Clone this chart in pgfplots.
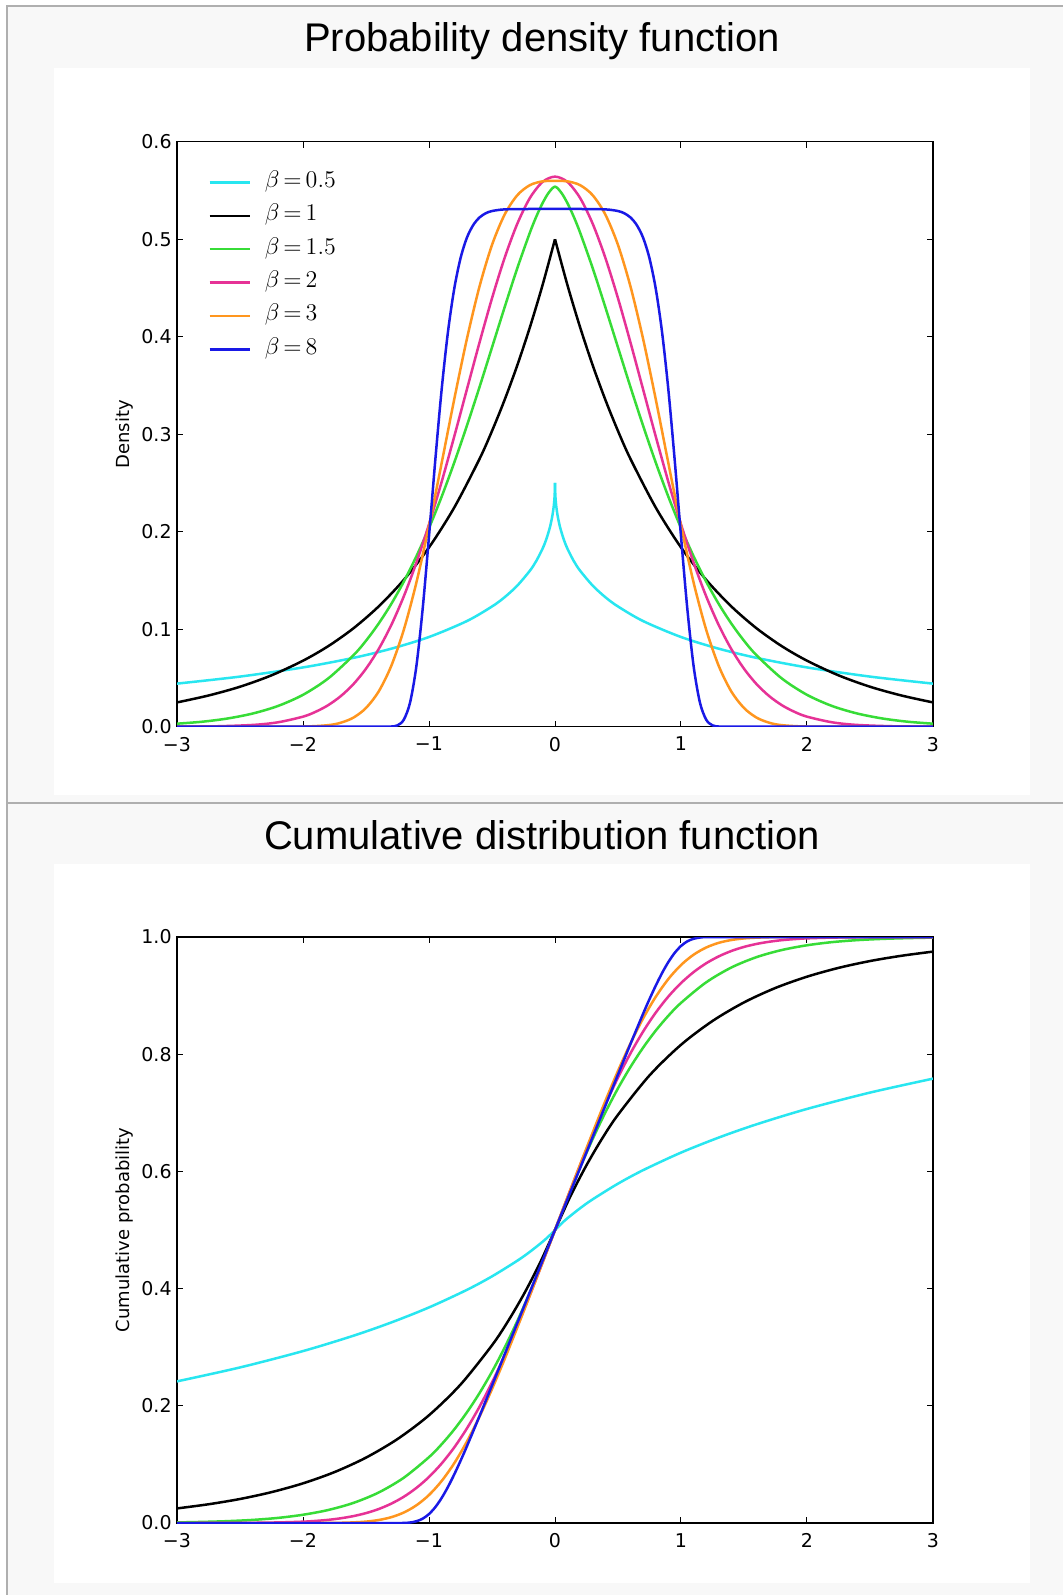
\documentclass[border=0pt]{standalone}
\usepackage[no-math]{fontspec}
\setmainfont{DejaVu Sans}
\newfontfamily\titlefont{Liberation Sans}
\usepackage{pgfplots}
\pgfplotsset{compat=1.18}

\definecolor{bgcol}{RGB}{248,248,248}
\definecolor{bordercol}{RGB}{175,175,175}
\definecolor{ccyan}{RGB}{40,230,240}
\definecolor{cgreen}{RGB}{55,220,55}
\definecolor{cpink}{RGB}{230,50,150}
\definecolor{corange}{RGB}{255,150,30}
\definecolor{cblue}{RGB}{25,25,230}

\pgfplotsset{
  gnd/.style={
    scale only axis, width=378pt, xmin=-3, xmax=3,
    tick align=inside, major tick length=3pt,
    xtick={-3,-2,-1,0,1,2,3}, xticklabels={−3,−2,−1,0,1,2,3},
    ticklabel style={font=\fontsize{9.5}{11}\selectfont, inner sep=0pt},
    xticklabel style={yshift=-5pt},
    yticklabel style={xshift=-2.5pt},
    every axis y label/.style={at={(axis description cs:-0.07,0.5)}, rotate=90, anchor=center, font=\fontsize{9}{11}\selectfont},
    axis line style={line width=0.7pt},
    every tick/.style={black, line width=0.5pt},
  },
  cur/.style={line width=1.25pt, smooth},
}

\begin{document}
\begin{tikzpicture}
\useasboundingbox (0,0) rectangle (531.5pt,-797.5pt);
\fill[white] (0,0) rectangle (531.5pt,-797.5pt);
\fill[bgcol] (3.25pt,-3pt) rectangle (531.5pt,-797.5pt);
\fill[white] (27pt,-34pt) rectangle (515pt,-397.5pt);
\fill[white] (27pt,-432pt) rectangle (515pt,-791.5pt);
\draw[bordercol, line width=1pt] (3.25pt,-797.5pt) -- (3.25pt,-3pt) -- (531.5pt,-3pt);
\draw[bordercol, line width=1pt] (3.25pt,-401.5pt) -- (531.5pt,-401.5pt);
\node[anchor=base, font=\titlefont\fontsize{20}{24}\selectfont] at (271pt,-26pt) {Probability density function};
\node[anchor=base, font=\titlefont\fontsize{20}{24}\selectfont] at (271pt,-424.5pt) {Cumulative distribution function};

% density
\begin{axis}[gnd, at={(88.5pt,-363.35pt)}, anchor=south west, height=292.5pt,
  ymin=0, ymax=0.6, ytick={0,0.1,0.2,0.3,0.4,0.5,0.6},
  yticklabels={0.0,0.1,0.2,0.3,0.4,0.5,0.6},
  ylabel={Density},
  legend cell align=left,
  legend image code/.code={\draw[#1] (0pt,0pt) -- (20pt,0pt);},
  legend style={at={(rel axis cs:0.041,0.95)}, anchor=north west, draw=none, fill=none,
    inner sep=0pt, row sep=5.7pt, column sep=7pt, font=\fontsize{12}{14}\selectfont,
    nodes={inner sep=0pt, text height=8pt, text depth=3pt}},
]
\addplot[ccyan, cur, forget plot] coordinates {(-3,0.0442)(-2.5,0.0514)(-2,0.0608)(-1.6,0.0706)(-1.3,0.0800)(-1,0.0920)(-0.7,0.1083)(-0.5,0.1233)(-0.4,0.1328)(-0.3,0.1446)(-0.2,0.1599)(-0.15,0.1697)(-0.1,0.1822)(-0.07,0.1919)(-0.04,0.2047)(-0.02,0.2170)(-0.01,0.2262)(-0.005,0.2329)(-0.001,0.2422)(0,0.2500)};
\addplot[ccyan, cur] coordinates {(0,0.2500)(0.001,0.2422)(0.005,0.2329)(0.01,0.2262)(0.02,0.2170)(0.04,0.2047)(0.07,0.1919)(0.1,0.1822)(0.15,0.1697)(0.2,0.1599)(0.3,0.1446)(0.4,0.1328)(0.5,0.1233)(0.7,0.1083)(1,0.0920)(1.3,0.0800)(1.6,0.0706)(2,0.0608)(2.5,0.0514)(3,0.0442)};
\addlegendentry{$\beta\mskip3mu{=}\mskip3mu0.5$}
\addplot[black, cur, forget plot] coordinates {(-3,0.0249)(-2.75,0.0320)(-2.5,0.0410)(-2.25,0.0527)(-2,0.0677)(-1.8,0.0826)(-1.6,0.1009)(-1.4,0.1233)(-1.2,0.1506)(-1,0.1839)(-0.8,0.2247)(-0.6,0.2744)(-0.5,0.3033)(-0.4,0.3352)(-0.3,0.3704)(-0.2,0.4094)(-0.1,0.4524)(0,0.5)};
\addplot[black, cur] coordinates {(0,0.5)(0.1,0.4524)(0.2,0.4094)(0.3,0.3704)(0.4,0.3352)(0.5,0.3033)(0.6,0.2744)(0.8,0.2247)(1,0.1839)(1.2,0.1506)(1.4,0.1233)(1.6,0.1009)(1.8,0.0826)(2,0.0677)(2.25,0.0527)(2.5,0.0410)(2.75,0.0320)(3,0.0249)};
\addlegendentry{$\beta\mskip3mu{=}\mskip3mu1$}
\addplot[cgreen, cur] coordinates {(-3,0.0031)(-2.8,0.0051)(-2.6,0.0084)(-2.4,0.0135)(-2.2,0.0212)(-2,0.0327)(-1.8,0.0495)(-1.6,0.0732)(-1.5,0.0882)(-1.4,0.1057)(-1.3,0.1258)(-1.2,0.1488)(-1.1,0.1748)(-1,0.2038)(-0.9,0.2358)(-0.8,0.2708)(-0.7,0.3084)(-0.6,0.3480)(-0.5,0.3890)(-0.4,0.4301)(-0.3,0.4700)(-0.2,0.5065)(-0.15,0.5227)(-0.1,0.5367)(-0.05,0.5477)(0,0.5539)(0.05,0.5477)(0.1,0.5367)(0.15,0.5227)(0.2,0.5065)(0.3,0.4700)(0.4,0.4301)(0.5,0.3890)(0.6,0.3480)(0.7,0.3084)(0.8,0.2708)(0.9,0.2358)(1,0.2038)(1.1,0.1748)(1.2,0.1488)(1.3,0.1258)(1.4,0.1057)(1.5,0.0882)(1.6,0.0732)(1.8,0.0495)(2,0.0327)(2.2,0.0212)(2.4,0.0135)(2.6,0.0084)(2.8,0.0051)(3,0.0031)};
\addlegendentry{$\beta\mskip3mu{=}\mskip3mu1.5$}
\addplot[cpink, cur] coordinates {(-3,0.0001)(-2.7,0.0004)(-2.4,0.0018)(-2.2,0.0045)(-2,0.0103)(-1.9,0.0153)(-1.8,0.0221)(-1.7,0.0314)(-1.6,0.0436)(-1.5,0.0595)(-1.4,0.0795)(-1.3,0.1041)(-1.2,0.1337)(-1.1,0.1683)(-1,0.2076)(-0.9,0.2510)(-0.8,0.2975)(-0.7,0.3456)(-0.6,0.3936)(-0.5,0.4394)(-0.4,0.4808)(-0.3,0.5156)(-0.2,0.5421)(-0.1,0.5586)(0,0.5642)(0.1,0.5586)(0.2,0.5421)(0.3,0.5156)(0.4,0.4808)(0.5,0.4394)(0.6,0.3936)(0.7,0.3456)(0.8,0.2975)(0.9,0.2510)(1,0.2076)(1.1,0.1683)(1.2,0.1337)(1.3,0.1041)(1.4,0.0795)(1.5,0.0595)(1.6,0.0436)(1.7,0.0314)(1.8,0.0221)(1.9,0.0153)(2,0.0103)(2.2,0.0045)(2.4,0.0018)(2.7,0.0004)(3,0.0001)};
\addlegendentry{$\beta\mskip3mu{=}\mskip3mu2$}
\addplot[corange, cur] coordinates {(-3,0)(-2.5,0)(-2,0.0002)(-1.8,0.0016)(-1.7,0.0041)(-1.6,0.0093)(-1.5,0.0192)(-1.4,0.0360)(-1.3,0.0622)(-1.2,0.0994)(-1.1,0.1479)(-1,0.2060)(-0.9,0.2701)(-0.8,0.3356)(-0.7,0.3973)(-0.6,0.4511)(-0.5,0.4941)(-0.4,0.5252)(-0.3,0.5450)(-0.2,0.5554)(-0.1,0.5593)(0,0.5599)(0.1,0.5593)(0.2,0.5554)(0.3,0.5450)(0.4,0.5252)(0.5,0.4941)(0.6,0.4511)(0.7,0.3973)(0.8,0.3356)(0.9,0.2701)(1,0.2060)(1.1,0.1479)(1.2,0.0994)(1.3,0.0622)(1.4,0.0360)(1.5,0.0192)(1.6,0.0093)(1.7,0.0041)(1.8,0.0016)(2,0.0002)(2.5,0)(3,0)};
\addlegendentry{$\beta\mskip3mu{=}\mskip3mu3$}
\addplot[cblue, cur] coordinates {(-3,0)(-2,0)(-1.4,0)(-1.3,0.0002)(-1.25,0.0014)(-1.2,0.0072)(-1.15,0.0249)(-1.1,0.0622)(-1.05,0.1212)(-1,0.1953)(-0.95,0.2735)(-0.9,0.3453)(-0.85,0.4044)(-0.8,0.4490)(-0.75,0.4804)(-0.7,0.5013)(-0.65,0.5143)(-0.6,0.5222)(-0.55,0.5266)(-0.5,0.5289)(-0.4,0.5306)(-0.2,0.5310)(0,0.5310)(0.2,0.5310)(0.4,0.5306)(0.5,0.5289)(0.55,0.5266)(0.6,0.5222)(0.65,0.5143)(0.7,0.5013)(0.75,0.4804)(0.8,0.4490)(0.85,0.4044)(0.9,0.3453)(0.95,0.2735)(1,0.1953)(1.05,0.1212)(1.1,0.0622)(1.15,0.0249)(1.2,0.0072)(1.25,0.0014)(1.3,0.0002)(1.4,0)(2,0)(3,0)};
\addlegendentry{$\beta\mskip3mu{=}\mskip3mu8$}
\end{axis}

% cumulative
\begin{axis}[gnd, at={(88.5pt,-761.5pt)}, anchor=south west, height=293pt,
  ymin=0, ymax=1, ytick={0,0.2,0.4,0.6,0.8,1},
  yticklabels={0.0,0.2,0.4,0.6,0.8,1.0},
  ylabel={Cumulative probability},
]
\addplot[ccyan, cur] coordinates {(-3,0.2417)(-2.5,0.2655)(-2,0.2934)(-1.6,0.3196)(-1.3,0.3422)(-1,0.3679)(-0.7,0.3978)(-0.5,0.4209)(-0.3,0.4475)(-0.2,0.4627)(-0.1,0.4797)(-0.05,0.4893)(0,0.5)(0.05,0.5107)(0.1,0.5203)(0.2,0.5373)(0.3,0.5525)(0.5,0.5791)(0.7,0.6022)(1,0.6321)(1.3,0.6578)(1.6,0.6804)(2,0.7066)(2.5,0.7345)(3,0.7583)};
\addplot[black, cur] coordinates {(-3,0.0249)(-2.75,0.0320)(-2.5,0.0410)(-2.25,0.0527)(-2,0.0677)(-1.75,0.0869)(-1.5,0.1116)(-1.25,0.1433)(-1,0.1839)(-0.75,0.2362)(-0.5,0.3033)(-0.375,0.3436)(-0.25,0.3894)(-0.125,0.4412)(0,0.5)(0.125,0.5588)(0.25,0.6106)(0.375,0.6564)(0.5,0.6967)(0.75,0.7638)(1,0.8161)(1.25,0.8567)(1.5,0.8884)(1.75,0.9131)(2,0.9323)(2.25,0.9473)(2.5,0.9590)(2.75,0.9680)(3,0.9751)};
\addplot[cgreen, cur] coordinates {(-3,0.0010)(-2.8,0.0019)(-2.6,0.0032)(-2.4,0.0053)(-2.2,0.0087)(-2,0.0141)(-1.8,0.0222)(-1.6,0.0343)(-1.4,0.0520)(-1.2,0.0773)(-1,0.1124)(-0.9,0.1343)(-0.8,0.1596)(-0.7,0.1886)(-0.6,0.2214)(-0.5,0.2582)(-0.4,0.2992)(-0.3,0.3442)(-0.2,0.3931)(-0.1,0.4453)(0,0.5)(0.1,0.5547)(0.2,0.6069)(0.3,0.6558)(0.4,0.7008)(0.5,0.7418)(0.6,0.7786)(0.7,0.8114)(0.8,0.8404)(0.9,0.8657)(1,0.8876)(1.2,0.9227)(1.4,0.9480)(1.6,0.9657)(1.8,0.9778)(2,0.9859)(2.2,0.9913)(2.4,0.9947)(2.6,0.9968)(2.8,0.9981)(3,0.9990)};
\addplot[cpink, cur] coordinates {(-3,0.0000)(-2.5,0.0002)(-2.2,0.0010)(-2,0.0023)(-1.9,0.0036)(-1.8,0.0054)(-1.7,0.0081)(-1.6,0.0118)(-1.5,0.0169)(-1.4,0.0238)(-1.3,0.0330)(-1.2,0.0448)(-1.1,0.0599)(-1,0.0786)(-0.9,0.1015)(-0.8,0.1289)(-0.7,0.1611)(-0.6,0.1981)(-0.5,0.2398)(-0.4,0.2858)(-0.3,0.3357)(-0.2,0.3886)(-0.1,0.4438)(0,0.5)(0.1,0.5562)(0.2,0.6114)(0.3,0.6643)(0.4,0.7142)(0.5,0.7602)(0.6,0.8019)(0.7,0.8389)(0.8,0.8711)(0.9,0.8985)(1,0.9214)(1.1,0.9401)(1.2,0.9552)(1.3,0.9670)(1.4,0.9762)(1.5,0.9831)(1.6,0.9882)(1.7,0.9919)(1.8,0.9946)(1.9,0.9964)(2,0.9977)(2.2,0.9990)(2.5,0.9998)(3,1.0000)};
\addplot[corange, cur] coordinates {(-3,0)(-2,0)(-1.8,0.0001)(-1.7,0.0004)(-1.6,0.0011)(-1.5,0.0024)(-1.4,0.0051)(-1.3,0.0099)(-1.2,0.0179)(-1.1,0.0302)(-1,0.0478)(-0.9,0.0716)(-0.8,0.1019)(-0.7,0.1386)(-0.6,0.1811)(-0.5,0.2285)(-0.4,0.2796)(-0.3,0.3332)(-0.2,0.3882)(-0.1,0.4440)(0,0.5)(0.1,0.5560)(0.2,0.6118)(0.3,0.6668)(0.4,0.7204)(0.5,0.7715)(0.6,0.8189)(0.7,0.8614)(0.8,0.8981)(0.9,0.9284)(1,0.9522)(1.1,0.9698)(1.2,0.9821)(1.3,0.9901)(1.4,0.9949)(1.5,0.9976)(1.6,0.9989)(1.7,0.9996)(1.8,0.9999)(2,1)(3,1)};
\addplot[cblue, cur] coordinates {(-3,0)(-2,0)(-1.3,0)(-1.2,0.0001)(-1.15,0.0009)(-1.1,0.0030)(-1.05,0.0074)(-1,0.0153)(-0.95,0.0271)(-0.9,0.0426)(-0.85,0.0614)(-0.8,0.0828)(-0.75,0.1060)(-0.7,0.1306)(-0.6,0.1820)(-0.5,0.2346)(-0.4,0.2876)(-0.3,0.3407)(-0.2,0.3938)(-0.1,0.4469)(0,0.5)(0.1,0.5531)(0.2,0.6062)(0.3,0.6593)(0.4,0.7124)(0.5,0.7654)(0.6,0.8180)(0.7,0.8694)(0.75,0.8940)(0.8,0.9172)(0.85,0.9386)(0.9,0.9574)(0.95,0.9729)(1,0.9847)(1.05,0.9926)(1.1,0.9970)(1.15,0.9991)(1.2,0.9999)(1.3,1)(2,1)(3,1)};
\end{axis}
\end{tikzpicture}
\end{document}
